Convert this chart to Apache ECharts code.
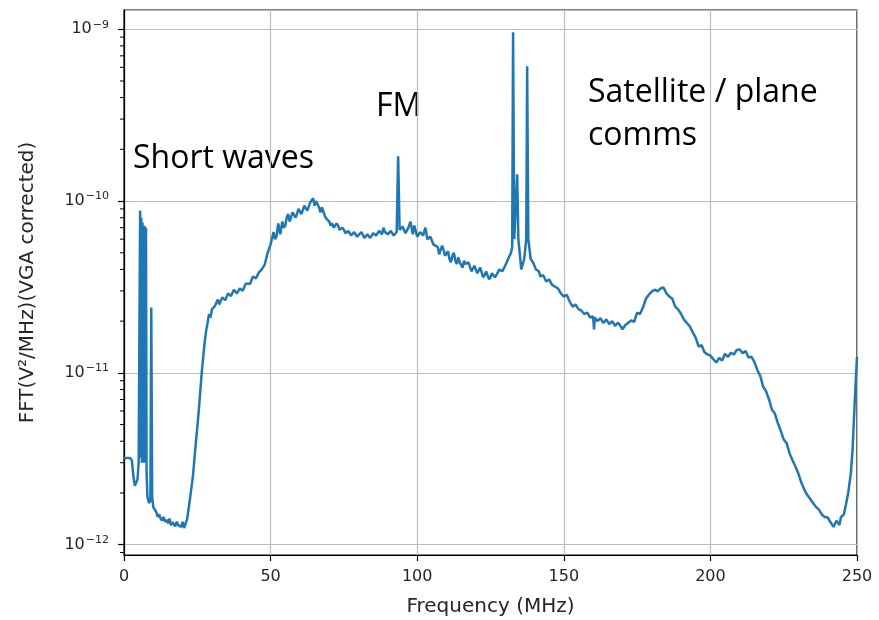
<!DOCTYPE html>
<html>
<head>
<meta charset="utf-8">
<script src="https://cdn.jsdelivr.net/npm/echarts@6/dist/echarts.min.js"></script>
<style>
  html, body { margin: 0; padding: 0; background: #fff; }
  #chart { width: 879px; height: 620px; }
</style>
</head>
<body>
<div id="chart"></div>
<script>
// frequency (MHz) and spectrum value in units of 1e-12 V^2/MHz
// (each line of freqMHz lines up with the same line of fftE12)
const freqMHz = [
  0, 1, 2, 2.7, 3.2, 3.7, 4.2, 4.6, 5.0, 5.3,
  5.5, 5.7, 5.9, 6.1, 6.3, 6.5, 6.7, 6.9, 7.1, 7.3, 7.5, 7.7, 8.0, 8.5,
  9.0, 9.3, 9.6, 10, 10.5, 11, 11.5, 12, 12.5, 13,
  13.5, 14, 14.5, 15, 15.5, 16, 16.5, 17, 17.5, 18,
  18.5, 19, 19.5, 20, 20.5, 21, 21.5, 22, 22.5, 23.5,
  24.5, 25.5, 26.5, 27.5, 28, 28.5, 29, 29.5, 30, 31,
  32, 32.5, 33, 33.5, 34, 34.5, 35, 35.5, 36, 36.5, 37, 37.5, 38, 38.5, 39, 39.5, 40, 40.5, 41, 41.5,
  42, 43, 44, 45, 46, 47, 48, 49, 50,
  51, 51.5, 52, 52.6, 53.3, 54, 54.5, 55, 55.5, 56, 56.5, 57, 57.5, 58, 58.5, 59, 59.5, 60,
  60.5, 61, 61.5, 62, 62.5, 63, 63.5, 64, 64.5, 65, 65.5, 66, 66.5, 67, 67.5, 68, 68.5, 69,
  70, 70.5, 71, 71.5, 72, 72.5, 73, 73.5, 74, 74.5, 75, 75.5, 76, 76.5, 77, 77.5, 78, 78.5, 79, 79.5,
  80, 81, 82, 83, 84, 85, 86, 87, 88, 88.5,
  89, 90, 91, 92, 93, 93.5, 94, 95, 96, 97,
  97.7, 98.5, 99, 100, 101, 102, 102.8, 103.5, 104.5, 105.5,
  107, 107.5, 108, 108.5, 109, 109.5, 110, 110.5, 111, 111.5, 112, 112.5, 113, 113.5, 114, 114.5, 115, 115.5, 116, 116.5,
  117, 117.5, 118, 118.5, 119, 119.5, 120, 120.5, 121, 121.5, 122, 122.5, 123, 123.5, 124, 124.5, 125, 125.5, 126, 126.5,
  127, 128, 129, 130, 131, 132, 132.4, 132.7, 133.1, 133.7,
  134.1, 134.5, 135.5, 136.5, 137.2, 137.5, 137.9, 138.7, 139.5, 140.5,
  141.5, 142, 143, 144, 145, 146, 147, 148, 149, 150,
  151, 152, 153, 154, 155, 156, 157, 158, 159, 160,
  160.3, 160.6, 161.5, 162.5, 163.5, 164.5, 165.5, 166.5, 167.5, 168.5,
  169.5, 170, 171, 172, 173, 174, 175, 176, 177, 178,
  179, 180, 181, 182, 183, 184, 185, 186, 187, 188,
  189, 190, 191, 192, 193, 194, 195, 196, 197, 198,
  199, 200, 201, 202, 203, 204, 205, 206, 207, 208,
  209, 210, 211, 212, 213, 214, 215, 216, 217, 218,
  219, 220, 221, 222, 223, 224, 225, 226, 227, 228,
  229, 230, 231, 232, 233, 234, 235, 236, 237, 238,
  239, 240, 241, 242, 243, 244, 244.5, 245.5, 246.2, 247,
  247.9, 248.5, 249, 249.5, 250
]
const fftE12 = [
  3.2, 3.2, 3.2, 3.1, 2.5, 2.2, 2.2, 2.4, 3.0, 3.0,
  88, 3.2, 80, 3.0, 75, 3.1, 72, 3.0, 71, 3.1, 70, 2.6, 1.9, 1.75,
  1.8, 24, 1.9, 1.65, 1.6, 1.55, 1.45, 1.5, 1.42, 1.38,
  1.45, 1.36, 1.4, 1.33, 1.42, 1.3, 1.35, 1.38, 1.28, 1.36,
  1.3, 1.33, 1.27, 1.36, 1.25, 1.33, 1.4, 1.6, 1.85, 2.5,
  3.9, 6.0, 10, 15, 17.5, 19.5, 22, 21, 23.4, 24.5,
  26.7, 25, 25.5, 27.5, 28, 26.5, 27, 29, 29.4, 28, 28.5, 30.5, 30.5, 29, 29.5, 31, 31, 30, 31.5, 33,
  33.6, 33, 36.4, 35.5, 38.4, 40, 42.7, 50, 56,
  66, 60, 62, 74, 64, 76, 70, 72, 80, 84, 76, 78, 86, 88, 80, 84, 90, 92,
  84, 86, 94, 96, 88, 90, 98, 100, 104, 94, 100, 100, 92, 86, 92, 90, 82, 79,
  76, 72, 74, 70, 70, 74, 72, 68, 67, 70, 68, 65, 64, 67, 66, 63, 62, 66, 65, 62,
  63, 66, 61, 64, 61, 65, 63, 67, 64, 70,
  66, 64, 67, 63, 66, 182, 68, 71, 65, 70,
  76, 64, 72, 62, 66, 63, 70, 60, 62, 56,
  54, 49, 50, 55, 52, 48, 47, 51, 46, 44, 48, 50, 45, 43, 47, 44, 44, 41, 45, 43,
  42, 44, 43, 39, 40, 42, 41, 38, 39, 41, 40, 36, 37, 39, 38, 35, 36, 38, 38.4, 36,
  37, 40, 39, 42, 46, 50, 54, 959, 60, 100,
  143, 60, 40, 46, 60, 608, 60, 46, 44, 40,
  39, 36.4, 37, 34, 35, 32.5, 31.8, 31, 29, 27.8,
  28.5, 26, 24.3, 25, 23.5, 23, 22, 22.4, 21, 21.3,
  17.9, 21, 20, 20.8, 19.5, 20.5, 19.2, 20, 18.8, 19.6,
  18.6, 17.9, 19, 19.6, 20.2, 19.8, 22.4, 22, 24, 27,
  28.5, 29.7, 30.5, 29.8, 31, 31.4, 29, 27.8, 27, 24.3,
  23.4, 22, 20.4, 19.5, 18.6, 17.2, 16, 14.2, 14.5, 13.2,
  12.8, 12.6, 12, 11.5, 12.2, 11.8, 12.9, 12.4, 13.1, 12.8,
  13.6, 13.7, 13, 13.4, 12.3, 12.4, 11.6, 10.4, 9.6, 8.3,
  7.8, 7.0, 6.1, 5.8, 5.1, 4.6, 4.1, 3.9, 3.4, 3.1,
  2.85, 2.6, 2.3, 2.1, 1.95, 1.85, 1.75, 1.66, 1.6, 1.5,
  1.45, 1.44, 1.35, 1.27, 1.38, 1.3, 1.44, 1.5, 1.7, 2.0,
  2.6, 3.6, 5.6, 8.5, 12.4
]
const xTicks = [0, 50, 100, 150, 200, 250]
const yDecades = [-12, -11, -10, -9]
const minorMantissa = [2, 3, 4, 5, 6, 7, 8, 9]

const yMin = 8.71e-13
const yMax = 1.294e-9
const labelColor = '#262626'
const gridColor = '#bcbcbc'

const seriesData = freqMHz.map((f, i) => [f, fftE12[i] * 1e-12])

// minor ticks of the log axis (2..9 x 10^n)
const minorTicks = []
for (const d of [-13, ...yDecades]) {
  for (const m of minorMantissa) {
    const v = m * Math.pow(10, d)
    if (v > yMin && v < yMax) minorTicks.push([0, v])
  }
}

const chart = echarts.init(document.getElementById('chart'), null, { renderer: 'canvas' })
chart.setOption({
  animation: false,
  backgroundColor: '#fff',
  grid: {
    left: 124,
    right: 22,
    top: 10,
    bottom: 65,
    outerBoundsMode: 'none',
    show: true,
    borderColor: '#000',
    borderWidth: 1.2,
  },
  xAxis: {
    type: 'value',
    min: xTicks[0],
    max: xTicks[xTicks.length - 1],
    interval: 50,
    name: 'Frequency (MHz)',
    nameLocation: 'middle',
    nameGap: 42,
    nameTextStyle: { fontFamily: 'DejaVu Sans', fontSize: 20, color: labelColor },
    axisLine: { lineStyle: { color: '#000', width: 1.2 } },
    axisTick: { length: 6, lineStyle: { color: '#000', width: 1.2 } },
    axisLabel: { fontFamily: 'DejaVu Sans', fontSize: 16, color: labelColor, margin: 14 },
    splitLine: { lineStyle: { color: gridColor, width: 1.2 } },
  },
  yAxis: {
    type: 'log',
    logBase: 10,
    min: yMin,
    max: yMax,
    name: 'FFT(V²/MHz)(VGA corrected)',
    nameLocation: 'middle',
    nameGap: 86,
    nameTextStyle: { fontFamily: 'DejaVu Sans', fontSize: 20, color: labelColor },
    axisLine: { show: true, lineStyle: { color: '#000', width: 1.2 } },
    axisTick: { length: 6, lineStyle: { color: '#000', width: 1.2 } },
    axisLabel: {
      showMinLabel: false,
      showMaxLabel: false,
      margin: 15,
      formatter: (value) => {
        const e = Math.log10(value)
        const n = Math.round(e)
        if (Math.abs(e - n) > 1e-6 || !yDecades.includes(n)) return ''
        return '{b|10}{s|−' + Math.abs(n) + '}'
      },
      rich: {
        b: { fontFamily: 'DejaVu Sans', fontSize: 16, color: labelColor },
        s: { fontFamily: 'DejaVu Sans', fontSize: 11, color: labelColor, padding: [0, 0, 9, 1] },
      },
    },
    splitLine: { lineStyle: { color: gridColor, width: 1.2 } },
  },
  series: [
    {
      name: 'FFT',
      type: 'line',
      data: seriesData,
      showSymbol: false,
      symbol: 'none',
      lineStyle: { color: '#1f77b4', width: 2.5 },
      z: 3,
    },
    {
      name: 'minor ticks',
      type: 'custom',
      data: minorTicks,
      clip: false,
      silent: true,
      renderItem: (params, api) => {
        const p = api.coord([api.value(0), api.value(1)])
        return {
          type: 'line',
          shape: { x1: p[0] - 4, y1: p[1], x2: p[0], y2: p[1] },
          style: { stroke: '#000', lineWidth: 1 },
        }
      },
    },
  ],
  graphic: [
    { type: 'text', x: 133, y: 159, style: { text: 'Short waves', font: '32px "Open Sans"', fill: '#000', verticalAlign: 'middle' } },
    { type: 'text', x: 376, y: 107, style: { text: 'FM', font: '32px "Open Sans"', fill: '#000', verticalAlign: 'middle' } },
    { type: 'text', x: 588, y: 93, style: { text: 'Satellite / plane', font: '32px "Open Sans"', fill: '#000', verticalAlign: 'middle' } },
    { type: 'text', x: 588, y: 136, style: { text: 'comms', font: '32px "Open Sans"', fill: '#000', verticalAlign: 'middle' } },
  ],
})
</script>
</body>
</html>
